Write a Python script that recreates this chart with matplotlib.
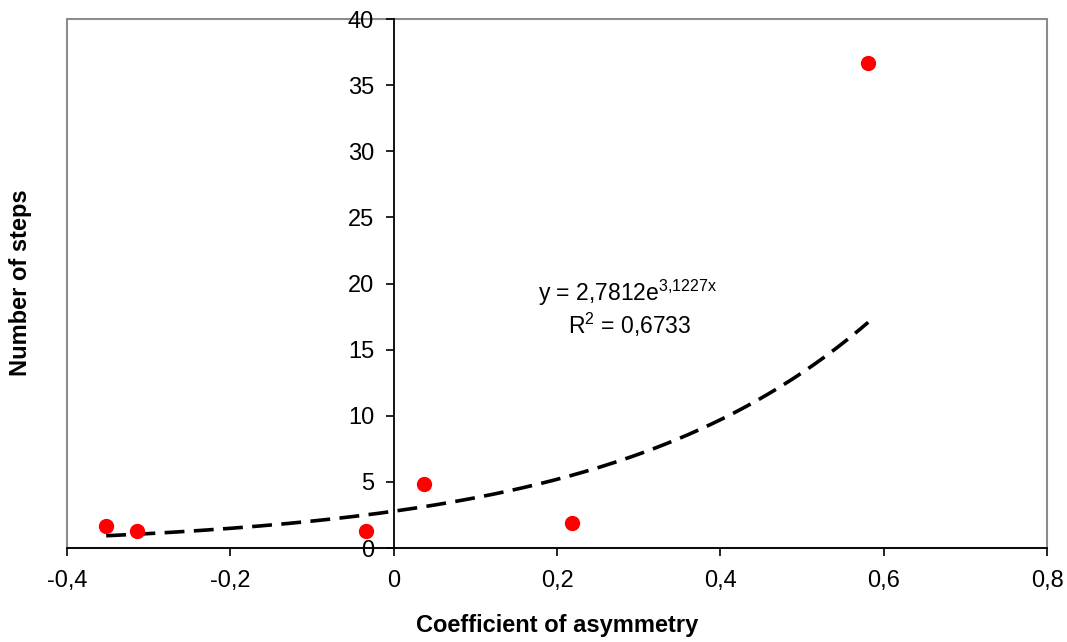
import numpy as np
import matplotlib.pyplot as plt
from matplotlib.patches import Rectangle

plt.rcParams['font.family'] = ['Liberation Sans', 'DejaVu Sans']
plt.rcParams['mathtext.default'] = 'regular'

# data points
asym = [-0.352, -0.314, -0.034, 0.037, 0.218, 0.581]
steps = [1.7, 1.3, 1.3, 4.85, 1.9, 36.7]

# exponential trend line as printed on the chart
trend_a = 2.7812
trend_b = 3.1227

xticks = [-0.4, -0.2, 0, 0.2, 0.4, 0.6, 0.8]
xtick_labels = ['-0,4', '-0,2', '0', '0,2', '0,4', '0,6', '0,8']
yticks = [0, 5, 10, 15, 20, 25, 30, 35, 40]

fig = plt.figure(figsize=(10.67, 6.42), dpi=100)
ax = fig.add_axes([0.0628, 0.1464, 0.9185, 0.824])

# gray plot area border
ax.add_patch(Rectangle((0, 0), 1, 1, transform=ax.transAxes, fill=False,
                       edgecolor='#8c8c8c', linewidth=1.5, zorder=0.5, clip_on=False))
ax.spines['top'].set_visible(False)
ax.spines['right'].set_visible(False)
ax.spines['left'].set_position(('data', 0))
ax.spines['left'].set_color('black')
ax.spines['bottom'].set_color('black')
ax.spines['left'].set_linewidth(1.3)
ax.spines['bottom'].set_linewidth(1.3)

# trend line
xt = np.linspace(min(asym), max(asym), 200)
line, = ax.plot(xt, trend_a * np.exp(trend_b * xt), color='black', linewidth=2.6, zorder=2)
line.set_dashes((5.5, 2.6))

ax.plot(asym, steps, 'o', color='red', markersize=10, zorder=3)

ax.set_xlim(-0.4, 0.8)
ax.set_ylim(0, 40)
ax.set_xticks(xticks)
ax.set_xticklabels(xtick_labels)
ax.set_yticks(yticks)
ax.tick_params(axis='both', direction='out', length=6, width=1.2, labelsize=17, colors='black')
ax.tick_params(axis='x', pad=10)
ax.tick_params(axis='y', pad=8)

ax.text(0.287, 19.3, 'y = 2,7812e$^{3{,}1227x}$', fontsize=16.5, ha='center', va='center')
ax.text(0.289, 16.9, 'R$^{2}$ = 0,6733', fontsize=16.5, ha='center', va='center')

ax.set_xlabel('Coefficient of asymmetry', fontsize=17, fontweight='bold', labelpad=16)
fig.text(0.019, 0.559, 'Number of steps', rotation=90, fontsize=17, fontweight='bold',
         ha='center', va='center')

fig.savefig('out.png', dpi=100)
